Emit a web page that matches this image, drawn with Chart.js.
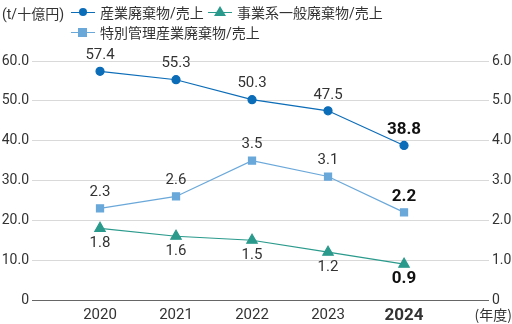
<!DOCTYPE html>
<html>
<head>
<meta charset="utf-8">
<script src="https://cdn.jsdelivr.net/npm/chart.js@4/dist/chart.umd.min.js"></script>
<style>
  body { margin: 0; background: #fff; }
  #wrap { position: relative; width: 512px; height: 324px; font-family: Roboto, "Noto Sans CJK JP", sans-serif; color: #333; }
  #unit { position: absolute; left: 2px; top: 3px; font-size: 14px; }
  .item { position: absolute; font-size: 14px; white-space: nowrap; display: flex; align-items: center; height: 18px; }
  .icon { position: relative; display: inline-block; width: 24px; height: 12px; margin-right: 5px; }
  .icon .ln { position: absolute; left: 0; right: 0; top: 5.5px; height: 1.2px; }
  .icon .mk { position: absolute; }
</style>
</head>
<body>
<div id="wrap">
  <canvas id="myChart" width="512" height="324"></canvas>
  <div id="unit">(t/十億円)</div>
  <div class="item" style="left:71px;top:3px">
    <span class="icon"><span class="ln" style="background:#0b6cb8"></span><span class="mk" style="left:8px;top:2px;width:8px;height:8px;border-radius:50%;background:#0b6cb8"></span></span>産業廃棄物/売上
  </div>
  <div class="item" style="left:208px;top:3px">
    <span class="icon"><span class="ln" style="background:#2a9a8c"></span><span class="mk" style="left:6px;top:0px;width:0;height:0;border-left:6px solid transparent;border-right:6px solid transparent;border-bottom:10px solid #2a9a8c"></span></span>事業系一般廃棄物/売上
  </div>
  <div class="item" style="left:71px;top:23px">
    <span class="icon"><span class="ln" style="background:#6aa8da"></span><span class="mk" style="left:7px;top:1.5px;width:9px;height:9px;background:#6aa8da"></span></span>特別管理産業廃棄物/売上
  </div>
</div>
<script>
const years = [2020, 2021, 2022, 2023, 2024];
const industrial = [57.4, 55.3, 50.3, 47.5, 38.8];
const generalWaste = [1.8, 1.6, 1.5, 1.2, 0.9];
const specialWaste = [2.3, 2.6, 3.5, 3.1, 2.2];
const leftTicks = [0, 10, 20, 30, 40, 50, 60];
const rightTicks = [0, 1, 2, 3, 4, 5, 6];

const toPoints = arr => arr.map((v, i) => ({ x: years[i], y: v }));
const lastYear = years[years.length - 1];

/* value labels */
const valueLabels = {
    id: 'valueLabels',
    afterDatasetsDraw(chart) {
        const ctx = chart.ctx;
        chart.data.datasets.forEach((ds, di) => {
            const meta = chart.getDatasetMeta(di);
            meta.data.forEach((pt, i) => {
                const last = i === ds.data.length - 1;
                ctx.save();
                ctx.font = last ? 'bold 17px Roboto' : '15px Roboto';
                ctx.fillStyle = last ? '#111' : '#333';
                ctx.textAlign = 'center';
                ctx.textBaseline = 'middle';
                const off = ds.labelBelow ? 15 : -16;
                ctx.fillText(ds.data[i].y.toFixed(1), pt.x, pt.y + off);
                ctx.restore();
            });
        });
    }
};

const ctx = document.getElementById('myChart').getContext('2d');
new Chart(ctx, {
    type: 'line',
    data: {
        datasets: [
            {
                label: '産業廃棄物/売上',
                data: toPoints(industrial),
                yAxisID: 'y',
                borderColor: '#0b6cb8',
                backgroundColor: '#0b6cb8',
                borderWidth: 1.2,
                pointStyle: 'circle',
                pointRadius: 4,
                labelBelow: false
            },
            {
                label: '事業系一般廃棄物/売上',
                data: toPoints(generalWaste),
                yAxisID: 'y1',
                borderColor: '#2a9a8c',
                backgroundColor: '#2a9a8c',
                borderWidth: 1.2,
                pointStyle: 'triangle',
                pointRadius: 6,
                labelBelow: true
            },
            {
                label: '特別管理産業廃棄物/売上',
                data: toPoints(specialWaste),
                yAxisID: 'y1',
                borderColor: '#6aa8da',
                backgroundColor: '#6aa8da',
                borderWidth: 1.2,
                pointStyle: 'rect',
                pointRadius: 5,
                labelBelow: false
            }
        ]
    },
    options: {
        responsive: false,
        animation: false,
        layout: { padding: { top: 61, left: 0, right: 0, bottom: 0 } },
        plugins: { legend: { display: false }, tooltip: { enabled: false } },
        scales: {
            x: {
                type: 'linear',
                min: 2019.105,
                max: 2025.118,
                grid: { display: false, drawTicks: false },
                border: { display: false },
                afterFit(scale) { scale.height = 24; },
                ticks: {
                    stepSize: 1,
                    includeBounds: false,
                    padding: 6,
                    color: '#333',
                    font: c => c.tick && c.tick.value === lastYear
                        ? { family: 'Roboto', size: 17, weight: 'bold' }
                        : { family: 'Roboto', size: 15 },
                    callback: v => years.includes(v) ? String(v) : ''
                }
            },
            y: {
                position: 'left',
                min: 0,
                max: 60,
                afterFit(scale) { scale.width = 32; },
                afterBuildTicks(scale) { scale.ticks = leftTicks.map(v => ({ value: v })); },
                border: { display: false },
                grid: {
                    drawTicks: false,
                    lineWidth: 1,
                    color: c => c.tick.value === 0 ? '#666' : '#d9d9d9'
                },
                ticks: {
                    padding: 3,
                    color: '#333',
                    font: { family: 'Roboto', size: 14 },
                    callback: v => v === 0 ? '0' : v.toFixed(1)
                }
            },
            y1: {
                position: 'right',
                min: 0,
                max: 6,
                afterFit(scale) { scale.width = 23; },
                afterBuildTicks(scale) { scale.ticks = rightTicks.map(v => ({ value: v })); },
                border: { display: false },
                grid: { display: false, drawTicks: false },
                ticks: {
                    padding: 3,
                    color: '#333',
                    font: { family: 'Roboto', size: 14 },
                    callback: v => v === 0 ? '0' : v.toFixed(1)
                }
            }
        }
    },
    plugins: [valueLabels, {
        id: 'yearUnit',
        afterDraw(chart) {
            const c = chart.ctx;
            c.save();
            c.font = '14px "Noto Sans CJK JP"';
            c.fillStyle = '#333';
            c.textAlign = 'right';
            c.textBaseline = 'middle';
            c.fillText('(年度)', 512, 315);
            c.restore();
        }
    }]
});
</script>
</body>
</html>
